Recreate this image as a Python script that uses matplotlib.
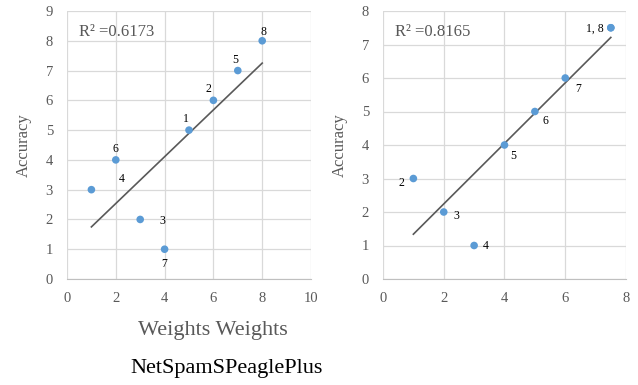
import numpy as np
import matplotlib.pyplot as plt

plt.rcParams['font.family'] = ['Liberation Serif', 'DejaVu Serif']

# left panel data
x_left = [1, 2, 3, 4, 5, 6, 7, 8]
y_left = [3, 4, 2, 1, 5, 6, 7, 8]
lbl_left = ['4', '6', '3', '7', '1', '2', '5', '8']
lbl_left_off = [(1.25, 0.36), (0.0, 0.37), (0.9, -0.05), (0.0, -0.5),
                (-0.12, 0.37), (-0.2, 0.37), (-0.12, 0.35), (0.05, 0.28)]

# right panel data (point 1 and 8 coincide)
x_right = [7.5, 1, 2, 3, 4, 5, 6, 7.5]
y_right = [7.5, 3, 2, 1, 4, 5, 6, 7.5]
lbl_right = ['1, 8', '2', '3', '4', '5', '6', '7']
lbl_right_pos = [(7.5, 7.5), (1, 3), (2, 2), (3, 1), (4, 4), (5, 5), (6, 6)]
lbl_right_off = [(-0.53, -0.04), (-0.38, -0.13), (0.4, -0.12), (0.39, -0.01),
                 (0.28, -0.33), (0.36, -0.29), (0.41, -0.33)]

r2_left = 'R² =0.6173'
r2_right = 'R² =0.8165'

W, H = 638, 385
fig = plt.figure(figsize=(W / 100, H / 100), dpi=100)

GRAY = '#595959'
GRID = '#D9D9D9'
BLUE = '#5B9BD5'


def make_ax(px_left, px_right, px_top, px_bottom):
    ax = fig.add_axes([px_left / W, (H - px_bottom) / H,
                       (px_right - px_left) / W, (px_bottom - px_top) / H])
    ax.grid(True, color=GRID, lw=0.9)
    ax.set_axisbelow(True)
    for s in ['top', 'right', 'left']:
        ax.spines[s].set_visible(False)
    ax.spines['bottom'].set_color('#BFBFBF')
    ax.tick_params(length=0, labelsize=10.5, colors=GRAY)
    ax.tick_params(axis='x', pad=9)
    ax.tick_params(axis='y', pad=10)
    return ax


def draw(ax, xs, ys, xmax, ymax, r2):
    ax.scatter(xs, ys, s=30, color=BLUE, zorder=3, edgecolors='none')
    k, b = np.polyfit(xs, ys, 1)
    xf = np.array([min(xs), max(xs)])
    ax.plot(xf, k * xf + b, color=GRAY, lw=1.2, zorder=2)
    ax.set_xlim(0, xmax)
    ax.set_ylim(0, ymax)
    ax.set_xticks(range(0, xmax + 1, 2))
    ax.set_yticks(range(0, ymax + 1))
    ax.set_ylabel('Accuracy', fontsize=12, color=GRAY, labelpad=10)
    ax.text(0.05, 0.92, r2, transform=ax.transAxes, fontsize=12,
            color=GRAY, va='center', ha='left')


ax1 = make_ax(67, 311, 11, 279)
draw(ax1, x_left, y_left, 10, 9, r2_left)
for x, y, t, (dx, dy) in zip(x_left, y_left, lbl_left, lbl_left_off):
    ax1.text(x + dx, y + dy, t, fontsize=8.5, ha='center', va='center')

ax2 = make_ax(383, 626, 11, 279)
draw(ax2, x_right, y_right, 8, 8, r2_right)
for (x, y), t, (dx, dy) in zip(lbl_right_pos, lbl_right, lbl_right_off):
    ax2.text(x + dx, y + dy, t, fontsize=8.5, ha='center', va='center')

fig.text(213 / W, 1 - 330 / H, 'Weights Weights', fontsize=16, color=GRAY,
         ha='center', va='center')
fig.text(227 / W, 1 - 368 / H, 'NetSpamSPeaglePlus', fontsize=16,
         color='black', ha='center', va='center')

fig.savefig('out.png', dpi=100)
